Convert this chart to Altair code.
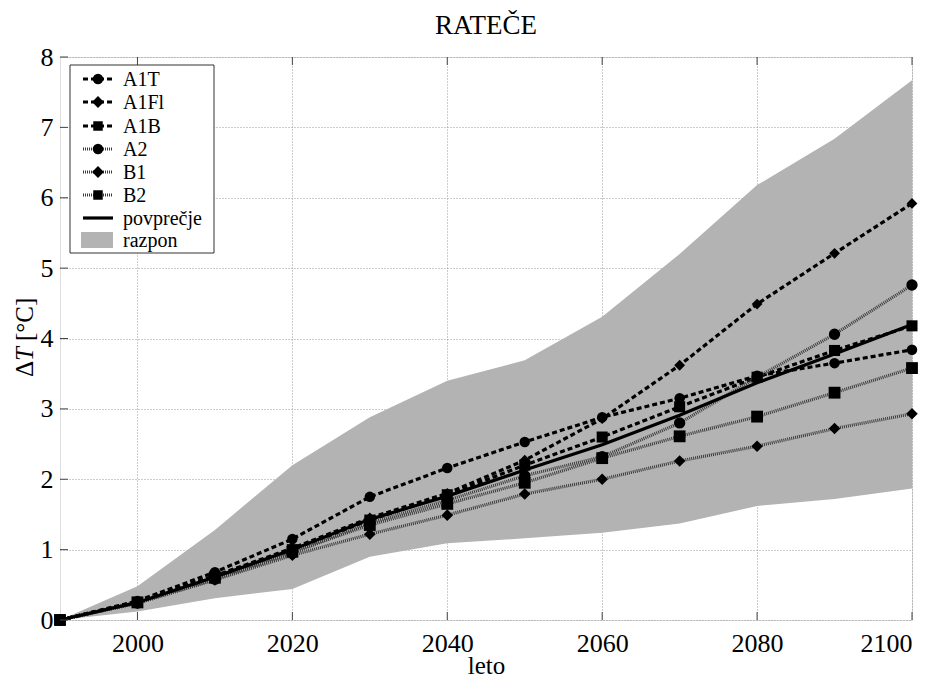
import altair as alt
import pandas as pd

# ---------------- data ----------------
years = [1990, 2000, 2010, 2020, 2030, 2040, 2050, 2060, 2070, 2080, 2090, 2100]
series_names = ["A1T", "A1Fl", "A1B", "A2", "B1", "B2"]
a1t = [0, 0.27, 0.68, 1.15, 1.75, 2.16, 2.53, 2.88, 3.15, 3.47, 3.65, 3.84]
a1fi = [0, 0.26, 0.63, 1.02, 1.45, 1.80, 2.27, 2.86, 3.62, 4.49, 5.21, 5.92]
a1b = [0, 0.25, 0.62, 1.00, 1.42, 1.78, 2.20, 2.60, 3.03, 3.45, 3.83, 4.18]
a2 = [0, 0.24, 0.58, 0.95, 1.38, 1.70, 2.05, 2.32, 2.80, 3.45, 4.06, 4.76]
b1 = [0, 0.24, 0.57, 0.92, 1.22, 1.49, 1.79, 2.00, 2.26, 2.47, 2.72, 2.93]
b2 = [0, 0.25, 0.60, 0.97, 1.35, 1.65, 1.95, 2.30, 2.61, 2.89, 3.23, 3.58]
mean_vals = [0, 0.25, 0.61, 1.00, 1.43, 1.76, 2.13, 2.49, 2.91, 3.37, 3.78, 4.20]
range_upper = [0, 0.48, 1.28, 2.20, 2.88, 3.40, 3.69, 4.31, 5.20, 6.18, 6.84, 7.67]
range_lower = [0, 0.12, 0.31, 0.44, 0.90, 1.09, 1.16, 1.24, 1.37, 1.62, 1.72, 1.87]
x_ticks = [2000, 2020, 2040, 2060, 2080, 2100]
y_ticks = [0, 1, 2, 3, 4, 5, 6, 7, 8]
legend_labels = ["A1T", "A1Fl", "A1B", "A2", "B1", "B2", "povprečje", "razpon"]
title_text = "RATEČE"

# ---------------- tables ----------------
series_values = [a1t, a1fi, a1b, a2, b1, b2]
rows = []
for name, vals in zip(series_names, series_values):
    for yr, v in zip(years, vals):
        rows.append({"leto": yr, "dT": v, "scenarij": name})
long_df = pd.DataFrame(rows)
band_df = pd.DataFrame({"leto": years, "lo": range_lower, "hi": range_upper})
mean_df = pd.DataFrame({"leto": years, "dT": mean_vals})
xt_df = pd.DataFrame({"leto": x_ticks})
yt_df = pd.DataFrame({"dT": y_ticks})

FONT = "Liberation Serif"
W, H = 852, 563
DASH = [5, 3]
DOT = [1, 1]
dash_range = [DASH, DASH, DASH, DOT, DOT, DOT]
shape_range = ["circle", "diamond", "square", "circle", "diamond", "square"]
size_range = [110, 140, 90, 110, 140, 90]
color_range = ["#000000", "#000000", "#000000", "#3a3a3a", "#3a3a3a", "#3a3a3a"]

xscale = alt.Scale(domain=[1990, 2100], nice=False, zero=False)
yscale = alt.Scale(domain=[0, 8], nice=False, zero=True)

x_axis = alt.Axis(values=x_ticks, format="d", title="leto", ticks=False,
                  domain=False, labelFont=FONT, labelFontSize=26,
                  labelColor="#000", labelPadding=10, titleFont=FONT,
                  titleFontSize=25, titleFontWeight="normal",
                  titleColor="#000", titleY=53, titleBaseline="alphabetic",
                  grid=True, gridDash=[1, 2], gridColor="#999999",
                  gridWidth=1)
y_axis = alt.Axis(values=y_ticks, title="", ticks=False, domain=False,
                  labelFont=FONT, labelFontSize=26, labelColor="#000",
                  labelPadding=7, grid=True, gridDash=[1, 2],
                  gridColor="#999999", gridWidth=1)


def X(field="leto"):
    return alt.X(field + ":Q", scale=xscale, axis=x_axis, title="leto")


def Y(field="dT"):
    return alt.Y(field + ":Q", scale=yscale, axis=y_axis, title="")


band = alt.Chart(band_df).mark_area(color="#b3b3b3", opacity=1).encode(
    x=X(), y=Y("lo"), y2="hi:Q")

lines = alt.Chart(long_df).mark_line(strokeWidth=3.2).encode(
    x=X(), y=Y(),
    detail="scenarij:N",
    strokeDash=alt.StrokeDash("scenarij:N", scale=alt.Scale(domain=series_names, range=dash_range), legend=None),
    color=alt.Color("scenarij:N", scale=alt.Scale(domain=series_names, range=color_range), legend=None),
)

mean_line = alt.Chart(mean_df).mark_line(color="black", strokeWidth=3.2).encode(
    x=X(), y=Y())

points = alt.Chart(long_df).mark_point(filled=True, opacity=1, color="black").encode(
    x=X(), y=Y(),
    shape=alt.Shape("scenarij:N", scale=alt.Scale(domain=series_names, range=shape_range), legend=None),
    size=alt.Size("scenarij:N", scale=alt.Scale(domain=series_names, range=size_range), legend=None),
)

tick_color = "#444444"
ticks_bottom = alt.Chart(xt_df).mark_rule(color=tick_color, strokeWidth=1).encode(
    x=X(), y=alt.value(H), y2=alt.value(H - 8))
ticks_top = alt.Chart(xt_df).mark_rule(color=tick_color, strokeWidth=1).encode(
    x=X(), y=alt.value(0), y2=alt.value(8))
ticks_left = alt.Chart(yt_df).mark_rule(color=tick_color, strokeWidth=1).encode(
    y=Y(), x=alt.value(0), x2=alt.value(8))

one = pd.DataFrame({"k": [0]})

# ---------------- legend (drawn by hand) ----------------
legend_layers = []
legend_layers.append(alt.Chart(one).mark_rect(fill="white", stroke="#333333", strokeWidth=1).encode(
    x=alt.value(10), x2=alt.value(154), y=alt.value(8), y2=alt.value(196)))
row_y = [22, 45, 69, 92, 115, 138, 161, 183]
for i, lab in enumerate(legend_labels):
    yy = row_y[i]
    if i < 6:
        legend_layers.append(alt.Chart(one).mark_rule(
            color=color_range[i], strokeWidth=3.2, strokeDash=dash_range[i]).encode(
            x=alt.value(23), x2=alt.value(53), y=alt.value(yy)))
        legend_layers.append(alt.Chart(one).mark_point(
            filled=True, size=size_range[i], opacity=1, color="black", shape=shape_range[i]).encode(
            x=alt.value(38), y=alt.value(yy)))
    elif i == 6:
        legend_layers.append(alt.Chart(one).mark_rule(color="black", strokeWidth=3.2).encode(
            x=alt.value(23), x2=alt.value(53), y=alt.value(yy)))
    else:
        legend_layers.append(alt.Chart(one).mark_rect(fill="#b3b3b3").encode(
            x=alt.value(21), x2=alt.value(53), y=alt.value(yy - 8), y2=alt.value(yy + 8)))
    legend_layers.append(alt.Chart(one).mark_text(
        text=lab, font=FONT, fontSize=20, align="left", baseline="middle", color="black").encode(
        x=alt.value(63), y=alt.value(yy + 1)))

# ---------------- title & y axis title: ΔT [°C] with italic T ----------------
extra_text = [
    alt.Chart(one).mark_text(text=title_text, font=FONT, fontSize=27, align="center",
                             baseline="alphabetic", color="black").encode(x=alt.value(W / 2), y=alt.value(-23)),
    alt.Chart(one).mark_text(text="Δ", font=FONT, fontSize=25, angle=270, align="left",
                             baseline="middle", color="black").encode(x=alt.value(-35), y=alt.value(320)),
    alt.Chart(one).mark_text(text="T", font=FONT, fontSize=25, fontStyle="italic", angle=270,
                             align="left", baseline="middle", color="black").encode(x=alt.value(-35), y=alt.value(304)),
    alt.Chart(one).mark_text(text="[°C]", font=FONT, fontSize=25, angle=270, align="left",
                             baseline="middle", color="black").encode(x=alt.value(-35), y=alt.value(284)),
]

chart = alt.layer(
    band, lines, mean_line, points, ticks_bottom, ticks_top, ticks_left,
    *legend_layers, *extra_text
).resolve_scale(
    color="independent", shape="independent", strokeDash="independent", size="independent"
).properties(
    width=W, height=H,
    autosize=alt.AutoSizeParams(type="none"),
    padding={"left": 52, "top": 49, "right": 25, "bottom": 57},
).configure_view(
    stroke="black", strokeWidth=1.2
).configure(background="white")

chart.save("out.html", embed_options={"renderer": "svg", "actions": False})
